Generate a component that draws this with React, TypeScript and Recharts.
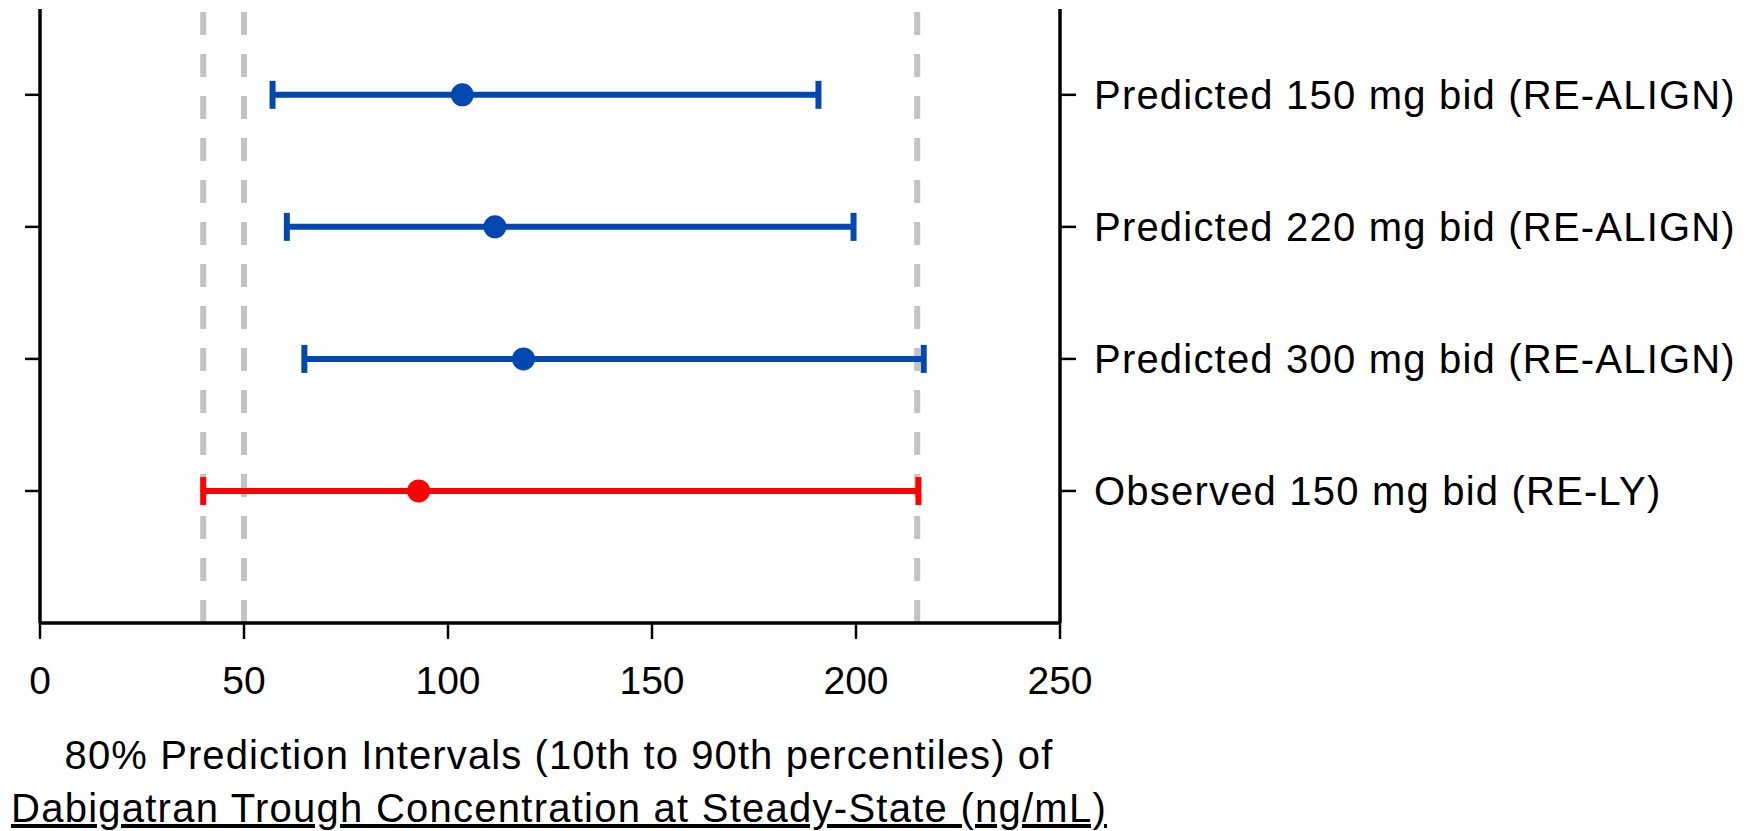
import { ScatterChart, Scatter, XAxis, YAxis, ErrorBar, ReferenceLine, Label } from 'recharts'

// row positions on the y scale, counted from the bottom
const rowTicks = [1, 2, 3, 4]
const rowLabels = [
  'Observed 150 mg bid (RE-LY)',
  'Predicted 300 mg bid (RE-ALIGN)',
  'Predicted 220 mg bid (RE-ALIGN)',
  'Predicted 150 mg bid (RE-ALIGN)',
]

const predictedRows = [4, 3, 2]
const predictedLow = [57, 60.5, 64.8]
const predictedMid = [103.5, 111.5, 118.5]
const predictedHigh = [190.8, 199.4, 216.6]

const observedRows = [1]
const observedLow = [40]
const observedMid = [92.8]
const observedHigh = [215.3]

const referenceValues = [40, 50, 215]
const xTicks = [0, 50, 100, 150, 200, 250]

const titleLine1 = '80% Prediction Intervals (10th to 90th percentiles) of'
const titleLine2 = 'Dabigatran Trough Concentration at Steady-State (ng/mL)'

const BLUE = '#0348B0'
const RED = '#FF0000'
const GREY = '#C3C3C3'
const FONT = '"Liberation Sans", Arial, Helvetica, sans-serif'

const toPoints = (rows: number[], low: number[], mid: number[], high: number[]) =>
  rows.map((y, i) => ({ x: mid[i], y, err: [mid[i] - low[i], high[i] - mid[i]] }))

const predictedData = toPoints(predictedRows, predictedLow, predictedMid, predictedHigh)
const observedData = toPoints(observedRows, observedLow, observedMid, observedHigh)

const dot = (color: string) => (props: any) => <circle cx={props.cx} cy={props.cy} r={11.5} fill={color} />

const renderTitle = (props: any) => {
  const vb = props.viewBox || {}
  const x0 = vb.x ?? 40
  const y0 = vb.y ?? 623
  const w = vb.width ?? 1020
  const cx = x0 + w / 2 + 9
  return (
    <g>
      <text x={cx} y={y0 + 146} textAnchor="middle" fontFamily={FONT} fontSize={40} letterSpacing={1.1} fill="#000">
        {titleLine1}
      </text>
      <text
        x={cx}
        y={y0 + 199}
        textAnchor="middle"
        fontFamily={FONT}
        fontSize={40}
        letterSpacing={1.25}
        fill="#000"
        style={{ textDecoration: 'underline' }}
      >
        {titleLine2}
      </text>
    </g>
  )
}

const axisLine = { stroke: '#000', strokeWidth: 3.5 }
const tickLine = { stroke: '#000', strokeWidth: 2.5 }

export default function App() {
  return (
    <div style={{ position: 'absolute', left: 0, top: 0, width: 1752, height: 831, background: '#fff' }}>
      <ScatterChart width={1752} height={831} margin={{ top: 9, right: 0, bottom: 0, left: 0 }}>
        <XAxis
          type="number"
          dataKey="x"
          domain={[0, 250]}
          ticks={xTicks}
          interval={0}
          allowDataOverflow
          height={208}
          tickSize={16}
          tickMargin={27}
          axisLine={axisLine}
          tickLine={tickLine}
          tick={{ fill: '#000', fontSize: 39, fontFamily: FONT }}
        >
          <Label position="bottom" content={renderTitle} />
        </XAxis>
        <YAxis
          yAxisId="left"
          type="number"
          dataKey="y"
          domain={[0, 4.65]}
          ticks={rowTicks}
          interval={0}
          allowDataOverflow
          width={40}
          tickSize={15}
          tickFormatter={() => ''}
          axisLine={axisLine}
          tickLine={tickLine}
        />
        <YAxis
          yAxisId="right"
          orientation="right"
          type="number"
          domain={[0, 4.65]}
          ticks={rowTicks}
          interval={0}
          allowDataOverflow
          width={692}
          tickSize={16}
          tickMargin={18}
          tickFormatter={(v: number) => rowLabels[v - 1]}
          axisLine={axisLine}
          tickLine={tickLine}
          tick={{ fill: '#000', fontSize: 40, fontFamily: FONT, letterSpacing: 1.2 }}
        />
        {referenceValues.map((v) => (
          <ReferenceLine key={v} yAxisId="left" x={v} stroke={GREY} strokeWidth={6} strokeDasharray="23 19" />
        ))}
        <Scatter yAxisId="left" data={predictedData} fill={BLUE} shape={dot(BLUE)} isAnimationActive={false}>
          <ErrorBar dataKey="err" direction="x" width={14} stroke={BLUE} strokeWidth={6} isAnimationActive={false} />
        </Scatter>
        <Scatter yAxisId="left" data={observedData} fill={RED} shape={dot(RED)} isAnimationActive={false}>
          <ErrorBar dataKey="err" direction="x" width={14} stroke={RED} strokeWidth={6} isAnimationActive={false} />
        </Scatter>
      </ScatterChart>
    </div>
  )
}
